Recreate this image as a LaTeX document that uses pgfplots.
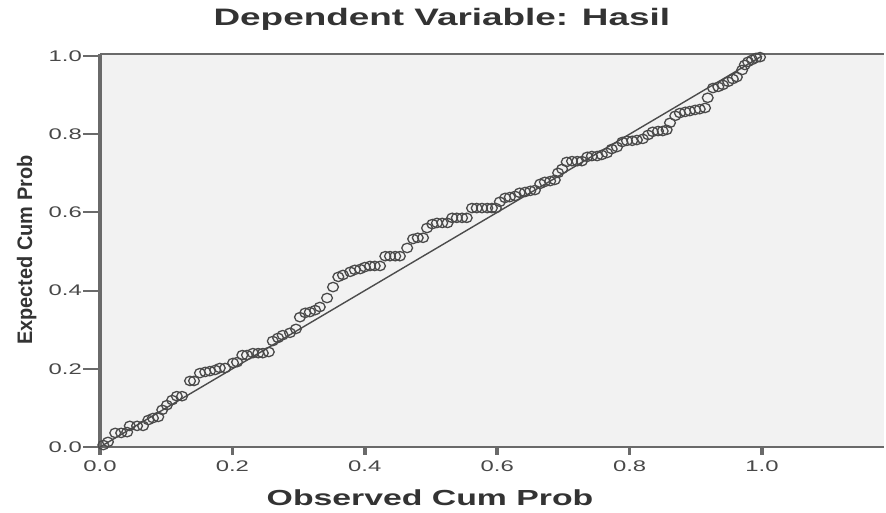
\documentclass[border=0pt]{standalone}
\usepackage{fontspec}
\setmainfont{Liberation Sans}
\newfontfamily\widesans[FakeStretch=1.55]{Liberation Sans}
\newfontfamily\ylabfont[FakeStretch=0.95]{Liberation Sans}
\usepackage{pgfplots}
\pgfplotsset{compat=1.18}
\definecolor{bgfill}{HTML}{F2F2F2}
\definecolor{axgray}{HTML}{6A6A6A}
\definecolor{txt}{HTML}{333333}
\definecolor{ticktxt}{HTML}{484848}
\definecolor{markc}{HTML}{4A4A4A}
\begin{document}
\begin{tikzpicture}
\begin{axis}[
  scale only axis,
  width=784pt, height=393pt,
  xmin=0, xmax=1.1843, ymin=0, ymax=1.005,
  clip=false,
  axis background/.style={fill=bgfill},
  axis line style={draw=none},
  xtick={0,0.2,0.4,0.6,0.8,1.0},
  ytick={0,0.2,0.4,0.6,0.8,1.0},
  major tick length=0pt,
  tick style={draw=none},
  /pgf/number format/assume math mode=true,
  /pgf/number format/.cd, fixed, fixed zerofill, precision=1, /pgfplots/.cd,
  ticklabel style={font=\widesans\fontsize{15.4}{18}\selectfont, text=ticktxt},
  xticklabel style={anchor=north, inner sep=0pt, yshift=-14pt},
  yticklabel style={anchor=east, inner sep=0pt, xshift=-18pt},
  title={Dependent Variable: Hasil},
  title style={at={(axis description cs:0.436,1.056)}, anchor=base, inner sep=0pt,
    font=\widesans\bfseries\fontsize{23.8}{28}\selectfont, text=txt},
  xlabel={Observed Cum Prob},
  xlabel style={at={(axis description cs:0.421,-0.150)}, anchor=base, inner sep=0pt,
    font=\widesans\bfseries\fontsize{21.8}{26}\selectfont, text=txt},
  ylabel={Expected Cum Prob},
  ylabel style={at={(axis description cs:-0.0867,0.501)}, anchor=base, inner sep=0pt, rotate=0,
    font=\ylabfont\bfseries\fontsize{21}{25}\selectfont, text=txt},
]
\coordinate (O) at (rel axis cs:0,0);
% axis frame lines
\draw[axgray, line width=2pt] (rel axis cs:0,0) -- (rel axis cs:1,0);
\draw[axgray, line width=2.5pt] (rel axis cs:0,1) -- (rel axis cs:1,1);
\draw[axgray, line width=4pt] (rel axis cs:0,0) -- (rel axis cs:0,1);
\pgfplotsinvokeforeach{0,0.2,0.4,0.6,0.8,1.0}{
  \draw[axgray, line width=2pt] (axis cs:0,#1) -- ++(-17pt,0);
  \draw[axgray, line width=3.5pt] (axis cs:#1,0) -- ++(0,-8pt);
}
% reference line
\addplot[color=black!70, line width=1.4pt] coordinates {(0,0) (1,1)};
% observed points
\addplot[only marks, mark=o, mark size=4.7pt, color=markc, line width=1.3pt,
  every mark/.append style={xscale=1.15}] coordinates {
(0.005,0.005) (0.012,0.013) (0.023,0.036) (0.032,0.036) (0.041,0.038)
(0.045,0.054) (0.056,0.054) (0.065,0.054) (0.073,0.069) (0.080,0.074)
(0.088,0.077) (0.094,0.095) (0.101,0.107) (0.109,0.120) (0.116,0.130)
(0.124,0.130) (0.136,0.169) (0.142,0.169) (0.151,0.189) (0.159,0.192)
(0.166,0.194) (0.174,0.197) (0.181,0.202) (0.189,0.202) (0.201,0.215)
(0.207,0.217) (0.215,0.235) (0.222,0.235) (0.231,0.240) (0.239,0.240)
(0.246,0.240) (0.255,0.243) (0.261,0.271) (0.269,0.279) (0.276,0.286)
(0.287,0.292) (0.296,0.302) (0.302,0.332) (0.310,0.343) (0.317,0.345)
(0.325,0.350) (0.332,0.358) (0.343,0.381) (0.352,0.409) (0.360,0.435)
(0.367,0.440) (0.378,0.448) (0.385,0.453) (0.393,0.455) (0.400,0.460)
(0.408,0.463) (0.415,0.463) (0.423,0.463) (0.431,0.488) (0.438,0.488)
(0.446,0.488) (0.453,0.488) (0.464,0.509) (0.473,0.532) (0.480,0.535)
(0.488,0.535) (0.494,0.560) (0.502,0.570) (0.509,0.573) (0.517,0.573)
(0.525,0.573) (0.532,0.586) (0.539,0.586) (0.547,0.586) (0.554,0.586)
(0.562,0.611) (0.569,0.611) (0.577,0.611) (0.585,0.611) (0.592,0.611)
(0.598,0.611) (0.604,0.627) (0.612,0.637) (0.619,0.639) (0.627,0.642)
(0.634,0.650) (0.642,0.652) (0.650,0.655) (0.657,0.657) (0.665,0.673)
(0.672,0.678) (0.680,0.680) (0.687,0.683) (0.692,0.701) (0.698,0.711)
(0.705,0.729) (0.713,0.731) (0.721,0.731) (0.728,0.731) (0.736,0.742)
(0.743,0.744) (0.751,0.744) (0.758,0.747) (0.766,0.752) (0.773,0.762)
(0.781,0.767) (0.789,0.780) (0.796,0.783) (0.804,0.783) (0.811,0.785)
(0.820,0.788) (0.828,0.798) (0.835,0.806) (0.843,0.808) (0.850,0.808)
(0.856,0.811) (0.861,0.829) (0.869,0.847) (0.876,0.854) (0.884,0.857)
(0.891,0.859) (0.899,0.862) (0.906,0.864) (0.914,0.867) (0.918,0.893)
(0.926,0.918) (0.934,0.921) (0.941,0.926) (0.949,0.934) (0.956,0.941)
(0.962,0.946) (0.970,0.964) (0.974,0.977) (0.979,0.985) (0.985,0.990)
(0.991,0.995) (0.997,0.997)
};
\end{axis}
\pgfresetboundingbox
\useasboundingbox (O) ++(-100pt,-66pt) rectangle ++(886pt,513pt);
\end{tikzpicture}
\end{document}
